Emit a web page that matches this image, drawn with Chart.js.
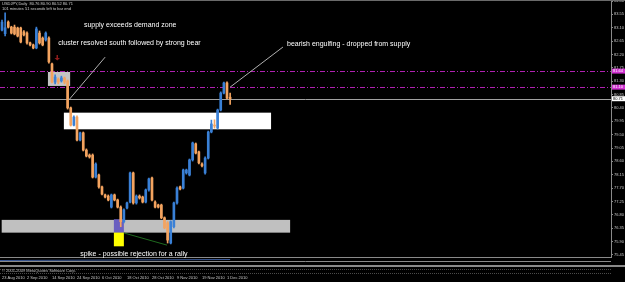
<!DOCTYPE html>
<html>
<head>
<meta charset="utf-8">
<script src="https://cdn.jsdelivr.net/npm/chart.js@4.4.0/dist/chart.umd.min.js"></script>
<style>
html, body { margin: 0; padding: 0; background: #000; overflow: hidden; }
canvas { display: block; }
</style>
</head>
<body>
<canvas id="myChart" width="625" height="282"></canvas>
<script>
// daily candles, 23 Aug 2010 -> 2 Dec 2010 (one per weekday)
var opens = [83.02, 82.90, 83.29, 83.12, 83.12, 83.09, 83.09, 82.96, 82.92, 82.59,
  82.52, 82.42, 82.92, 82.75, 82.69, 82.75, 81.88, 81.27, 81.37, 81.31,
  81.41, 81.31, 80.40, 79.82, 80.09, 79.32, 79.56, 78.98, 78.81, 78.81,
  78.07, 78.14, 77.74, 77.47, 77.43, 77.06, 77.47, 77.30, 77.06, 76.57,
  77.03, 77.23, 78.21, 77.20, 77.43, 77.40, 77.23, 77.64, 78.04, 77.23,
  77.13, 77.13, 76.70, 76.53, 75.85, 76.40, 77.20, 77.74, 77.70, 78.21,
  78.14, 78.65, 79.19, 78.92, 78.51, 78.21, 78.71, 79.59, 79.82, 79.72,
  80.33, 80.90, 81.24, 80.76];
var highs = [83.36, 83.60, 83.33, 83.15, 83.19, 83.12, 83.12, 83.00, 82.96, 82.62,
  82.55, 83.12, 82.99, 82.79, 82.96, 82.79, 81.91, 81.51, 81.41, 81.47,
  81.44, 81.34, 80.43, 80.13, 80.13, 79.59, 79.59, 79.02, 78.85, 78.85,
  78.55, 78.17, 77.77, 77.50, 77.47, 77.50, 77.50, 77.33, 77.10, 77.00,
  77.23, 78.24, 78.24, 77.47, 77.47, 77.43, 77.67, 78.04, 78.07, 77.27,
  77.16, 77.16, 76.73, 76.57, 76.60, 77.23, 77.74, 77.77, 78.34, 78.34,
  78.68, 79.25, 79.22, 78.95, 78.55, 78.75, 79.62, 79.99, 80.00, 80.36,
  80.94, 81.27, 81.28, 80.90];
var lows = [82.99, 82.82, 83.09, 82.89, 82.86, 82.79, 82.59, 82.82, 82.55, 82.49,
  82.39, 82.39, 82.55, 82.49, 82.65, 81.91, 81.24, 81.21, 81.21, 81.27,
  81.21, 80.36, 79.79, 79.79, 79.29, 79.29, 78.95, 78.75, 78.71, 78.04,
  78.04, 77.70, 77.47, 77.37, 77.27, 77.03, 77.27, 77.03, 76.40, 76.53,
  77.00, 77.20, 77.16, 77.16, 77.33, 77.20, 77.20, 77.60, 77.27, 77.03,
  77.03, 76.67, 76.33, 75.85, 75.82, 76.36, 77.16, 77.64, 77.67, 78.17,
  78.11, 78.61, 78.85, 78.51, 78.41, 78.17, 78.68, 79.56, 79.72, 79.69,
  80.30, 80.87, 80.70, 80.52];
var closes = [83.29, 83.10, 83.12, 82.92, 82.89, 82.82, 82.62, 82.86, 82.59, 82.52,
  82.42, 83.06, 82.59, 82.52, 82.92, 81.95, 81.27, 81.44, 81.27, 81.41,
  81.27, 80.40, 79.82, 80.09, 79.32, 79.56, 78.98, 78.78, 78.75, 78.07,
  78.51, 77.74, 77.50, 77.40, 77.30, 77.47, 77.30, 77.06, 76.57, 76.97,
  77.20, 78.21, 77.20, 77.43, 77.37, 77.23, 77.64, 78.01, 77.30, 77.06,
  77.06, 76.70, 76.36, 75.95, 76.57, 77.20, 77.70, 77.67, 78.31, 78.31,
  78.65, 79.22, 78.88, 78.55, 78.45, 78.71, 79.59, 79.86, 79.79, 80.33,
  80.90, 81.24, 80.73, 80.71];

var dateLabels = ['23 Aug 2010', '2 Sep 2010', '14 Sep 2010', '24 Sep 2010', '6 Oct 2010',
  '18 Oct 2010', '28 Oct 2010', '9 Nov 2010', '19 Nov 2010', '1 Dec 2010'];
var dateBars = [0, 8, 16, 24, 32, 40, 48, 56, 64, 72];
var yTicks = [84.00, 83.55, 83.10, 82.65, 82.20, 81.75, 81.30, 80.85, 80.40, 79.95,
  79.50, 79.05, 78.60, 78.15, 77.70, 77.25, 76.80, 76.35, 75.90, 75.45];

// rectangles: cluster, supply zone, demand zone, spike bar, spike tail
var zoneFrom = [14.7, 19.8, -0.1, 35.8, 35.8];
var zoneTo = [21.8, 86.1, 92.2, 39.0, 39.0];
var zoneHigh = [81.61, 80.24, 76.63, 76.65, 76.20];
var zoneLow = [81.14, 79.68, 76.20, 76.20, 75.74];
var zoneColor = ['#c4c4c4', '#ffffff', '#c0c0c0', '#6a5fc0', '#ffff00'];

// dash-dot levels and current bid
var levels = [81.64, 81.10];
var bid = 80.71;

// trend lines
var lineFrom = [21.4, 73.0, 39.0];
var lineFromP = [80.67, 81.10, 76.19];
var lineTo = [33.0, 89.9, 52.8];
var lineToP = [82.11, 82.45, 75.78];
var lineColor = ['#b0b0b0', '#b0b0b0', '#1f6a1f'];

var notes = ['supply exceeds demand zone', 'cluster resolved south followed by strong bear',
  'bearish engulfing - dropped from supply', 'spike - possible rejection for a rally'];
var noteBar = [26.2, 18.0, 91.2, 25.0];
var noteP = [83.19, 82.59, 82.55, 75.48];

var bull = '#3a80d6', bear = '#f4a460';
var candleColors = opens.map(function (o, i) { return closes[i] >= o ? bull : bear; });

var chrome = {
  id: 'chrome',
  beforeDatasetsDraw: function (chart) {
    var c = chart.ctx, a = chart.chartArea, x = chart.scales.x, y = chart.scales.y;
    c.save();
    for (var i = 0; i < zoneFrom.length; i++) {
      var x0 = x.getPixelForValue(zoneFrom[i]), x1 = x.getPixelForValue(zoneTo[i]);
      var y0 = y.getPixelForValue(zoneHigh[i]), y1 = y.getPixelForValue(zoneLow[i]);
      c.fillStyle = zoneColor[i];
      c.fillRect(x0, y0, x1 - x0, y1 - y0);
    }
    c.strokeStyle = '#b020b0';
    c.lineWidth = 1;
    c.setLineDash([5, 2, 1, 2]);
    levels.forEach(function (v) {
      var py = Math.round(y.getPixelForValue(v)) + 0.5;
      c.beginPath(); c.moveTo(a.left, py); c.lineTo(a.right, py); c.stroke();
    });
    c.setLineDash([]);
    c.strokeStyle = '#a0a0a0';
    var by = Math.round(y.getPixelForValue(bid)) + 0.5;
    c.beginPath(); c.moveTo(a.left, by); c.lineTo(a.right, by); c.stroke();
    c.restore();
  },
  afterDatasetsDraw: function (chart) {
    var c = chart.ctx, a = chart.chartArea, x = chart.scales.x, y = chart.scales.y;
    c.save();
    // trend lines
    c.lineWidth = 1;
    for (var i = 0; i < lineFrom.length; i++) {
      c.strokeStyle = lineColor[i];
      c.beginPath();
      c.moveTo(x.getPixelForValue(lineFrom[i]), y.getPixelForValue(lineFromP[i]));
      c.lineTo(x.getPixelForValue(lineTo[i]), y.getPixelForValue(lineToP[i]));
      c.stroke();
    }
    // notes
    c.fillStyle = '#ffffff';
    c.font = '7px "Liberation Sans", Arial, sans-serif';
    c.textBaseline = 'middle';
    c.textAlign = 'left';
    for (var j = 0; j < notes.length; j++) {
      c.fillText(notes[j], x.getPixelForValue(noteBar[j]), y.getPixelForValue(noteP[j]));
    }
    // small arrow mark above the cluster
    var ax = x.getPixelForValue(17.6), ay = y.getPixelForValue(82.08);
    c.fillStyle = '#8e1c1c';
    c.fillRect(ax - 0.5, ay - 3, 1.5, 3);
    c.beginPath(); c.moveTo(ax - 2.5, ay); c.lineTo(ax + 3, ay); c.lineTo(ax + 0.25, ay + 2.5); c.fill();

    // price tags on the axis
    c.font = '4px "Liberation Sans", Arial, sans-serif';
    levels.forEach(function (v) {
      var py = y.getPixelForValue(v);
      c.fillStyle = '#d030d0';
      c.fillRect(a.right + 1, py - 2.5, 13, 5);
      c.fillStyle = '#ffffff';
      c.fillText(v.toFixed(2), a.right + 2, py);
    });
    var pb = y.getPixelForValue(bid);
    c.fillStyle = '#ffffff';
    c.fillRect(a.right + 1, pb - 2.5, 13, 5);
    c.fillStyle = '#000000';
    c.fillText(bid.toFixed(2), a.right + 2, pb);

    // window header
    c.fillStyle = '#d0d0d0';
    c.fillText('USDJPY,Daily  80.76 80.90 80.52 80.71', 2, 4);
    c.fillText('101 minutes 51 seconds left to bar end', 2, 9);

    // top border
    c.fillStyle = '#6a6a6a';
    c.fillRect(0, 0, 625, 1);

    // indicator strip under the chart
    var b = a.bottom;
    c.strokeStyle = '#8a8a8a';
    c.beginPath(); c.moveTo(0, b + 4.5); c.lineTo(a.right, b + 4.5); c.stroke();
    c.strokeStyle = '#3a5a9a';
    c.beginPath(); c.moveTo(0, b + 3.5); c.lineTo(x.getPixelForValue(73), b + 2.5); c.stroke();
    c.fillStyle = '#8a8a8a';
    c.fillRect(0, b + 8, 625, 2);
    c.strokeStyle = '#4a4a4a';
    c.setLineDash([1, 1]);
    c.beginPath(); c.moveTo(0, b + 12.5); c.lineTo(a.right, b + 12.5); c.stroke();
    c.beginPath(); c.moveTo(0, b + 16.5); c.lineTo(a.right, b + 16.5); c.stroke();
    c.setLineDash([]);
    c.fillStyle = '#c0c0c0';
    c.fillText('\u00a9 2001-2009 MetaQuotes Software Corp.', 2, b + 14);
    c.restore();
  }
};

Chart.defaults.font.family = '"Liberation Sans", Arial, sans-serif';

var ctx = document.getElementById('myChart').getContext('2d');
var myChart = new Chart(ctx, {
  type: 'bar',
  data: {
    datasets: [{
      label: 'wick',
      data: lows.map(function (l, i) { return { x: i, y: [l, highs[i]] }; }),
      backgroundColor: candleColors,
      barThickness: 1,
      grouped: false,
      minBarLength: 1
    }, {
      label: 'body',
      data: opens.map(function (o, i) { return { x: i, y: [o, closes[i]] }; }),
      backgroundColor: candleColors,
      barThickness: 2,
      grouped: false,
      minBarLength: 1
    }]
  },
  options: {
    responsive: false,
    animation: false,
    devicePixelRatio: 1,
    layout: { padding: { top: 1, left: 0, right: 0, bottom: 0 } },
    plugins: { legend: { display: false }, tooltip: { enabled: false } },
    scales: {
      x: {
        type: 'linear',
        offset: false,
        min: -0.64,
        max: 194.88,
        grid: { display: false, drawTicks: false },
        border: { display: true, color: '#8a8a8a' },
        afterBuildTicks: function (s) { s.ticks = dateBars.map(function (v) { return { value: v }; }); },
        afterFit: function (s) { s.height = 25; s.paddingLeft = 0; s.paddingRight = 0; },
        ticks: {
          autoSkip: false,
          maxRotation: 0,
          align: 'start',
          padding: 18,
          color: '#c8c8c8',
          font: { size: 4 },
          callback: function (v, i) { return dateLabels[i]; }
        }
      },
      y: {
        position: 'right',
        min: 75.38,
        max: 84.00,
        grid: { drawOnChartArea: false, tickLength: 2, color: '#8a8a8a' },
        border: { display: true, color: '#8a8a8a' },
        afterBuildTicks: function (s) { s.ticks = yTicks.map(function (v) { return { value: v }; }); },
        afterFit: function (s) { s.width = 14; s.paddingTop = 0; s.paddingBottom = 0; },
        ticks: {
          padding: 1,
          color: '#c8c8c8',
          font: { size: 4 },
          callback: function (v) { return v.toFixed(2); }
        }
      }
    }
  },
  plugins: [chrome]
});
</script>
</body>
</html>
